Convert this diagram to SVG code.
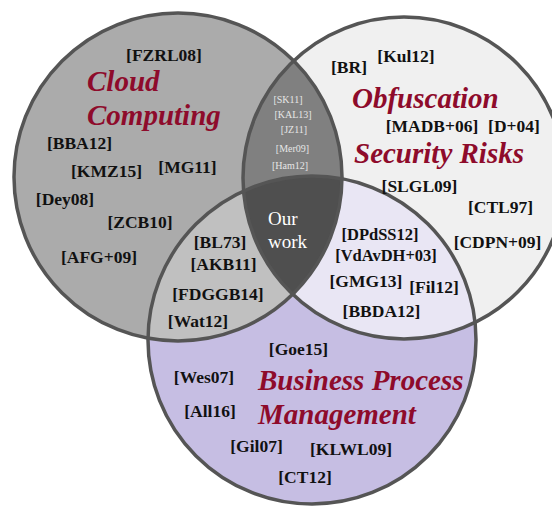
<svg xmlns="http://www.w3.org/2000/svg" width="552" height="506" viewBox="0 0 552 506">
<style>
.lbl{font-family:"Liberation Serif","Times New Roman",serif;font-weight:bold;font-size:17.5px;fill:#111;text-anchor:middle}
.tight{font-size:16.5px}
.ttl{font-family:"Liberation Serif","Times New Roman",serif;font-weight:bold;font-style:italic;font-size:29px;fill:#8e0b2b}
.sm{font-family:"Liberation Serif","Times New Roman",serif;font-size:10px;fill:#e6e6e6;text-anchor:middle}
.our{font-family:"Liberation Serif","Times New Roman",serif;font-size:19px;fill:#ffffff}
.ring{fill:none;stroke:#555555;stroke-width:3.5}
</style>
<defs>
<circle id="cL" cx="178" cy="177" r="164"/>
<circle id="cR" cx="404" cy="178" r="161"/>
<circle id="cB" cx="312" cy="340" r="164"/>
<clipPath id="clipL"><use href="#cL"/></clipPath>
<clipPath id="clipR"><use href="#cR"/></clipPath>
</defs>
<rect width="552" height="506" fill="#ffffff"/>
<g id="regions">
<use href="#cL" fill="#ababab"/>
<use href="#cR" fill="#f0f0f0"/>
<use href="#cB" fill="#c6bee3"/>
<use href="#cR" fill="#808080" clip-path="url(#clipL)"/>
<use href="#cB" fill="#c0c0c0" clip-path="url(#clipL)"/>
<use href="#cB" fill="#e9e6f4" clip-path="url(#clipR)"/>
<g clip-path="url(#clipR)"><use href="#cB" fill="#4f4f4f" clip-path="url(#clipL)"/></g>
<use href="#cL" class="ring"/>
<use href="#cR" class="ring"/>
<use href="#cB" class="ring"/>
</g>
<g id="cloud">
<text class="ttl" x="87" y="91">Cloud</text>
<text class="ttl" x="87" y="125">Computing</text>
<text class="lbl" x="164" y="61">[FZRL08]</text>
<text class="lbl" x="79.5" y="149">[BBA12]</text>
<text class="lbl" x="106.5" y="177">[KMZ15]</text>
<text class="lbl" x="187.5" y="173">[MG11]</text>
<text class="lbl" x="65" y="205">[Dey08]</text>
<text class="lbl" x="140" y="228">[ZCB10]</text>
<text class="lbl" x="99" y="263">[AFG+09]</text>
</g>
<g id="cloud-bpm">
<text class="lbl" x="220" y="248">[BL73]</text>
<text class="lbl" x="223.5" y="270">[AKB11]</text>
<text class="lbl" x="218" y="300">[FDGGB14]</text>
<text class="lbl" x="198" y="327">[Wat12]</text>
</g>
<g id="cloud-obf">
<text class="sm" x="288" y="103">[SK11]</text>
<text class="sm" x="293" y="118">[KAL13]</text>
<text class="sm" x="294" y="133">[JZ11]</text>
<text class="sm" x="292.5" y="152">[Mer09]</text>
<text class="sm" x="290" y="169">[Ham12]</text>
</g>
<g id="our-work">
<text class="our" x="268" y="225">Our</text>
<text class="our" x="268" y="248">work</text>
</g>
<g id="obfuscation">
<text class="ttl" x="352" y="108">Obfuscation</text>
<text class="ttl" x="354" y="163">Security Risks</text>
<text class="lbl" x="349" y="73">[BR]</text>
<text class="lbl" x="406" y="62">[Kul12]</text>
<text class="lbl" x="432" y="132">[MADB+06]</text>
<text class="lbl" x="514" y="132">[D+04]</text>
<text class="lbl" x="419.5" y="192">[SLGL09]</text>
<text class="lbl" x="500.5" y="213">[CTL97]</text>
<text class="lbl" x="497.5" y="248">[CDPN+09]</text>
</g>
<g id="obf-bpm">
<text class="lbl tight" x="380" y="240">[DPdSS12]</text>
<text class="lbl tight" x="386" y="261">[VdAvDH+03]</text>
<text class="lbl" x="366" y="287">[GMG13]</text>
<text class="lbl" x="434" y="293">[Fil12]</text>
<text class="lbl" x="381.5" y="317">[BBDA12]</text>
</g>
<g id="bpm">
<text class="ttl" x="258" y="390">Business Process</text>
<text class="ttl" x="258" y="424">Management</text>
<text class="lbl" x="298.5" y="355">[Goe15]</text>
<text class="lbl" x="204" y="383">[Wes07]</text>
<text class="lbl" x="210" y="417">[All16]</text>
<text class="lbl" x="256.5" y="452">[Gil07]</text>
<text class="lbl" x="351" y="455">[KLWL09]</text>
<text class="lbl" x="305" y="483">[CT12]</text>
</g>
</svg>
